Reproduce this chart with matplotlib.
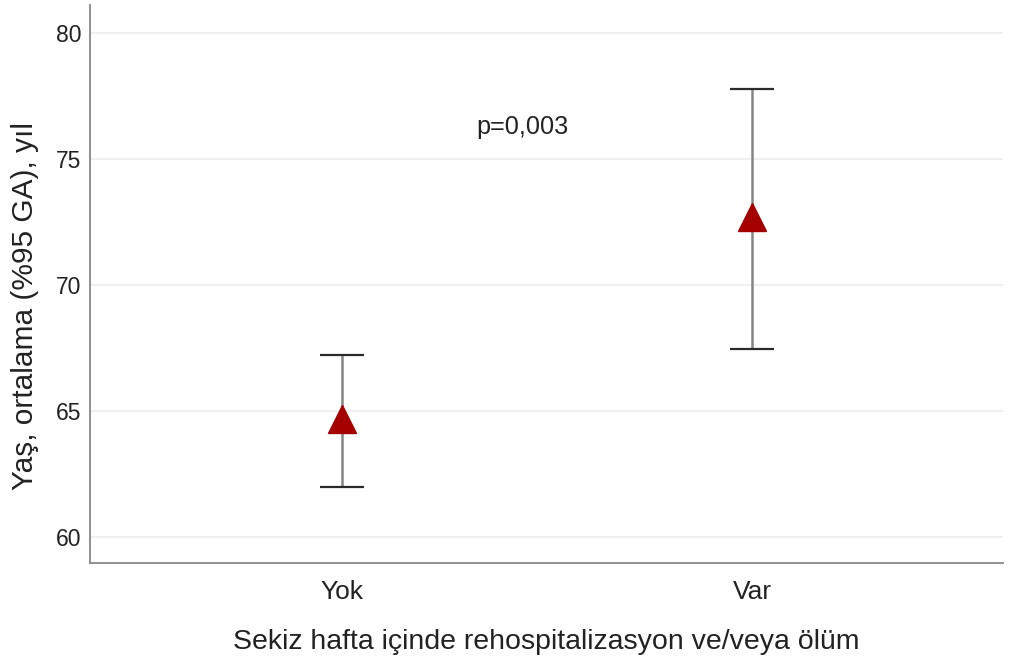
import matplotlib
matplotlib.use("Agg")
import matplotlib.pyplot as plt

plt.rcParams['font.family'] = ['Liberation Sans', 'DejaVu Sans']

categories = ["Yok", "Var"]
means = [64.7, 72.7]
lower = [62.0, 67.45]
upper = [67.2, 77.75]
p_text = "p=0,003"
yticks = [60, 65, 70, 75, 80]

fig = plt.figure(figsize=(10.11, 6.71), dpi=100)
ax = fig.add_axes([0.089, 0.161, 0.903, 0.8315])

x = list(range(len(categories)))
err_lo = [m - l for m, l in zip(means, lower)]
err_hi = [u - m for m, u in zip(means, upper)]
eb = ax.errorbar(x, means, yerr=[err_lo, err_hi], fmt='none', ecolor='#858585',
                 elinewidth=1.8, capsize=16, capthick=1.6, zorder=2)
for cap in eb[1]:
    cap.set_markeredgecolor('#2a2a2a')
    cap.set_color('#2a2a2a')
ax.plot(x, means, linestyle='none', marker='^', markersize=20,
        color='#a50000', markeredgecolor='#a50000', zorder=3)

ax.set_xlim(-0.615, 1.612)
ax.set_ylim(58.97, 81.1)
ax.set_yticks(yticks)
ax.set_xticks(x)
ax.set_xticklabels(categories)
ax.tick_params(axis='both', length=0, colors='#222222')
ax.tick_params(axis='x', pad=12.5, labelsize=19)
ax.tick_params(axis='y', pad=6, labelsize=16.5)
ax.yaxis.grid(True, color='#eeeeee', linewidth=1.2)
ax.set_axisbelow(True)
for s in ['top', 'right']:
    ax.spines[s].set_visible(False)
for s in ['left', 'bottom']:
    ax.spines[s].set_color('#888888')
    ax.spines[s].set_linewidth(1.3)

ax.text(0.441, 76.25, p_text, ha='center', va='center', fontsize=18.2, color='#222222')
ax.set_xlabel("Sekiz hafta içinde rehospitalizasyon ve/veya ölüm", fontsize=20.5,
              color='#222222', labelpad=18)
ax.set_ylabel("Yaş, ortalama (%95 GA), yıl", fontsize=21.5, color='#222222', labelpad=12)
ax.yaxis.label.set_y(0.46)

fig.savefig("out.png", dpi=100, facecolor='white')
